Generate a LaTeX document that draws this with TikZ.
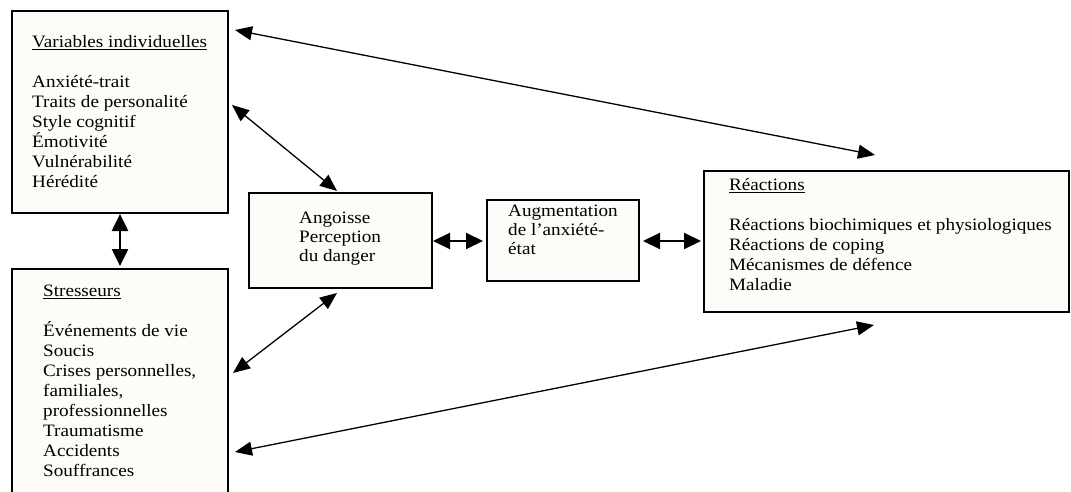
\documentclass[tikz,border=0pt]{standalone}
\usepackage{fontspec}
\setmainfont{Liberation Serif}[FakeStretch=1.1]
\usetikzlibrary{arrows.meta,calc}

\tikzset{
  box/.style={draw, line width=1.6pt, fill={rgb,255:red,253;green,252;blue,249}, inner sep=0pt, anchor=north west},
  txt/.style={anchor=north west, align=left, inner sep=0pt, font=\fontsize{17.4}{20}\selectfont},
  dbl/.style={{Triangle[length=17pt,width=14pt]}-{Triangle[length=17pt,width=14pt]}, line width=1.3pt},
  fat/.style={{Triangle[length=17pt,width=16pt]}-{Triangle[length=17pt,width=16pt]}, line width=2.6pt}
}

\begin{document}
\begin{tikzpicture}[x=1pt, y=-1pt]
\useasboundingbox (0,0) rectangle (1071,492);
\clip (0,0) rectangle (1071,492);
% boxes
\node[box, minimum width=216, minimum height=202] (vars) at (11,10) {};
\node[box, minimum width=216, minimum height=240] (stress) at (11,268) {};
\node[box, minimum width=183, minimum height=95] (ang) at (248,192) {};
\node[box, minimum width=152, minimum height=81] (aug) at (486,199) {};
\node[box, minimum width=365, minimum height=141] (reac) at (703,170) {};
% texts
\node[txt] (varstxt) at (32,35) {\underline{Variables individuelles}\\[20pt]
  Anxiété-trait\\ Traits de personalité\\ Style cognitif\\ Émotivité\\ Vulnérabilité\\ Hérédité};
\node[txt] (stresstxt) at (43,285) {\underline{Stresseurs}\\[20pt]
  Événements de vie\\ Soucis\\ Crises personnelles,\\ familiales,\\ professionnelles\\
  Traumatisme\\ Accidents\\ Souffrances};
\node[txt, font=\fontsize{17.4}{19}\selectfont] (angtxt) at (299,212) {Angoisse\\ Perception\\ du danger};
\node[txt, font=\fontsize{17.4}{19}\selectfont] (augtxt) at (508,205) {Augmentation\\ de l'anxiété-\\ état};
\node[txt] (reactxt) at (729,178) {\underline{Réactions}\\[20pt]
  Réactions biochimiques et physiologiques\\ Réactions de coping\\
  Mécanismes de défence\\ Maladie};
% arrow ends
\coordinate (vA) at (235,30);  \coordinate (rA) at (875,155);
\coordinate (vB) at (232,105); \coordinate (aB) at (337,191);
\coordinate (sC) at (233,373); \coordinate (aC) at (337,293);
\coordinate (sD) at (235,452); \coordinate (rD) at (874,325);
\coordinate (vE) at (120,214); \coordinate (sE) at (120,266);
\coordinate (aF) at (433,241); \coordinate (gF) at (483,241);
\coordinate (gG) at (643,241); \coordinate (rG) at (701,241);
% arrows
\draw[dbl] (vA) -- (rA);
\draw[dbl] (vB) -- (aB);
\draw[dbl] (sC) -- (aC);
\draw[dbl] (sD) -- (rD);
\draw[fat] (vE) -- (sE);
\draw[fat, line width=2pt] (aF) -- (gF);
\draw[fat, line width=2pt] (gG) -- (rG);
\end{tikzpicture}
\end{document}
